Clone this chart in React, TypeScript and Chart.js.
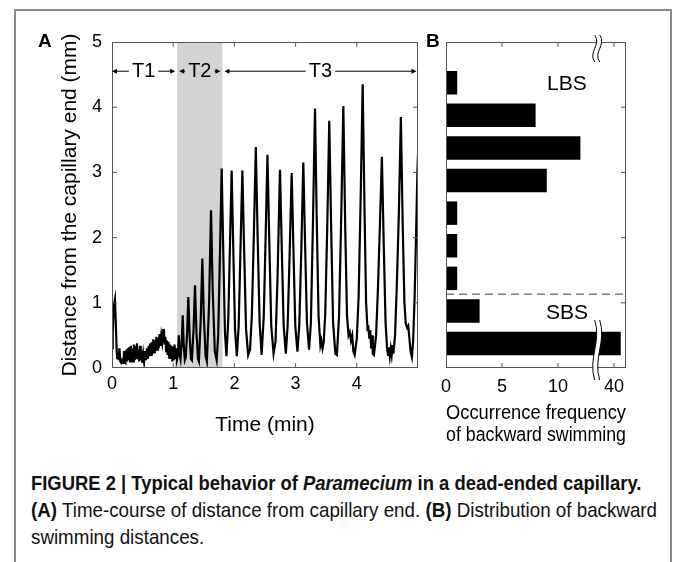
import React, { useEffect, useRef } from 'react';
import { Chart, registerables } from 'chart.js';

Chart.register(...registerables);

const FONT = '"Liberation Sans", Arial, Helvetica, sans-serif';

// ---------- Panel A: time course ----------
const timeMin = [
  0.000, 0.012, 0.030, 0.048, 0.062, 0.075, 0.085, 0.098, 0.110, 0.122,
  0.135, 0.150, 0.165, 0.180, 0.195, 0.205, 0.220, 0.235, 0.245, 0.258,
  0.270, 0.283, 0.295, 0.308, 0.320, 0.333, 0.345, 0.358, 0.370, 0.383,
  0.395, 0.408, 0.420, 0.433, 0.445, 0.458, 0.470, 0.483, 0.495, 0.510,
  0.525, 0.540, 0.555, 0.570, 0.585, 0.600, 0.612, 0.625, 0.638, 0.650,
  0.662, 0.675, 0.688, 0.700, 0.712, 0.725, 0.738, 0.750, 0.762, 0.775,
  0.790, 0.805, 0.820, 0.835, 0.848, 0.860, 0.872, 0.885, 0.897, 0.910,
  0.922, 0.935, 0.947, 0.960, 0.972, 0.985, 0.997, 1.010, 1.022, 1.035,
  1.047, 1.060,
  1.075, 1.092, 1.105, 1.120, 1.140, 1.155, 1.172, 1.190, 1.205, 1.228,
  1.247, 1.268, 1.290, 1.305, 1.333, 1.356, 1.380, 1.405, 1.420, 1.450,
  1.476, 1.500, 1.530, 1.550, 1.585, 1.618, 1.645, 1.680, 1.710, 1.735,
  1.765, 1.792, 1.818, 1.845, 1.870,
  1.900, 1.928, 1.955, 1.980, 2.010, 2.040,
  2.070, 2.100, 2.130, 2.158, 2.190, 2.225,
  2.255, 2.285, 2.318, 2.350, 2.380, 2.412, 2.445,
  2.480, 2.510, 2.540, 2.570, 2.602, 2.640,
  2.672, 2.705, 2.745, 2.775, 2.805, 2.840,
  2.870, 2.903, 2.936, 2.965, 2.995, 3.030,
  3.060, 3.093, 3.126, 3.155, 3.185, 3.220,
  3.250, 3.283, 3.317, 3.345, 3.375, 3.405, 3.420, 3.440, 3.460,
  3.485, 3.518, 3.550, 3.580, 3.612, 3.650, 3.675,
  3.710, 3.745, 3.780, 3.810, 3.840, 3.865, 3.885, 3.905, 3.925, 3.945, 3.965,
  4.000, 4.030, 4.063, 4.096, 4.125, 4.152, 4.175, 4.190, 4.205, 4.220, 4.235, 4.250, 4.262, 4.280,
  4.315, 4.345, 4.378, 4.410, 4.440, 4.470, 4.495, 4.510, 4.525, 4.540, 4.555, 4.570, 4.585, 4.598,
  4.625, 4.655, 4.688, 4.720, 4.750, 4.778, 4.800, 4.820, 4.840, 4.860, 4.880, 4.900, 4.920, 4.945,
  4.970, 4.990, 5.000,
];

const distanceMm = [
  0.30, 0.55, 0.95, 1.05, 0.70, 0.30, 0.15, 0.22, 0.12, 0.30,
  0.10, 0.08, 0.12, 0.08, 0.26, 0.10, 0.08, 0.28, 0.10, 0.30,
  0.12, 0.32, 0.10, 0.34, 0.14, 0.30, 0.10, 0.36, 0.12, 0.34,
  0.15, 0.38, 0.14, 0.28, 0.10, 0.34, 0.12, 0.26, 0.08, 0.22,
  0.10, 0.26, 0.12, 0.30, 0.14, 0.34, 0.18, 0.38, 0.20, 0.40,
  0.22, 0.44, 0.24, 0.42, 0.26, 0.48, 0.28, 0.46, 0.30, 0.52,
  0.34, 0.50, 0.40, 0.58, 0.60, 0.36, 0.48, 0.26, 0.42, 0.20,
  0.40, 0.16, 0.36, 0.14, 0.34, 0.10, 0.32, 0.12, 0.36, 0.14,
  0.30, 0.12,
  0.18, 0.50, 0.22, 0.14, 0.40, 0.81, 0.35, 0.12, 0.16, 0.55,
  1.09, 0.50, 0.14, 0.12, 0.60, 1.27, 0.55, 0.14, 0.10, 0.75,
  1.68, 0.80, 0.18, 0.10, 0.95, 2.42, 1.20, 0.25, 0.12, 0.50,
  1.80, 3.06, 1.80, 0.55, 0.18,
  0.75, 1.90, 3.03, 1.90, 0.60, 0.18,
  0.65, 1.85, 3.03, 1.85, 0.60, 0.20,
  0.28, 0.80, 2.05, 3.39, 2.00, 0.70, 0.20,
  0.80, 2.00, 3.27, 1.95, 0.65, 0.22,
  0.40, 1.40, 3.04, 1.80, 0.65, 0.22,
  0.65, 1.75, 2.99, 1.80, 0.65, 0.25,
  0.65, 1.80, 3.15, 1.90, 0.70, 0.28,
  0.70, 2.20, 3.98, 2.30, 0.80, 0.35, 0.42, 0.30, 0.40,
  0.85, 2.20, 3.79, 2.20, 0.70, 0.22, 0.20,
  0.80, 2.30, 4.02, 2.20, 0.80, 0.50, 0.55, 0.42, 0.50, 0.25, 0.20,
  0.45, 1.10, 2.60, 4.35, 2.50, 1.00, 0.60, 0.62, 0.45, 0.58, 0.30, 0.50, 0.22, 0.20,
  0.50, 1.20, 2.20, 3.24, 1.90, 0.70, 0.30, 0.20, 0.32, 0.18, 0.30, 0.20, 0.35, 0.22,
  0.50, 1.30, 2.40, 3.85, 2.20, 1.00, 0.68, 0.62, 0.65, 0.45, 0.25, 0.17, 0.40, 1.10,
  2.10, 3.00, 3.28,
];

const timeTicks = [0, 1, 2, 3, 4];
const distanceTicks = [0, 1, 2, 3, 4, 5];
const phaseBounds = [0, 1.065, 1.805, 5];
const phaseLabels = ['T1', 'T2', 'T3'];
const phaseLabelLevel = 4.56;

// ---------- Panel B: histogram ----------
const binCenters = [0.375, 0.875, 1.375, 1.875, 2.375, 2.875, 3.375, 3.875, 4.375];
const occurrence = [41, 3, 1, 1, 1, 9, 12, 8, 1];
const freqTicks = [0, 5, 10, 40];
const lbsSbsBoundary = 1.13;
const regionLabels = ['LBS', 'SBS'];
const regionLabelLevels = [4.37, 0.85];
const regionLabelFreq = 10.8;
const axisBreakAt = 13.5;

// broken axis: values >= 40 are shifted so that 40 sits where 15 would be
const toAxis = (v: number) => (v <= 13 ? v : 15 + (v - 40) * 0.6);

function drawInwardTicks(ctx: CanvasRenderingContext2D, a: any, xs: number[], ys: number[], sides: string[]) {
  const L = 5;
  ctx.beginPath();
  xs.forEach((px) => {
    if (sides.includes('bottom')) { ctx.moveTo(px, a.bottom); ctx.lineTo(px, a.bottom - L); }
    if (sides.includes('top')) { ctx.moveTo(px, a.top); ctx.lineTo(px, a.top + L); }
  });
  ys.forEach((py) => {
    if (sides.includes('left')) { ctx.moveTo(a.left, py); ctx.lineTo(a.left + L, py); }
    if (sides.includes('right')) { ctx.moveTo(a.right, py); ctx.lineTo(a.right - L, py); }
  });
  ctx.stroke();
}

function arrowHead(ctx: CanvasRenderingContext2D, x: number, y: number, dir: number) {
  ctx.beginPath();
  ctx.moveTo(x, y);
  ctx.lineTo(x - dir * 5, y - 2.5);
  ctx.lineTo(x - dir * 5, y + 2.5);
  ctx.closePath();
  ctx.fill();
}

function wavyBreak(ctx: CanvasRenderingContext2D, xc: number, yTop: number, yBot: number) {
  const gap = 5;
  const h = yBot - yTop;
  const path = (off: number, reverse: boolean) => {
    const x = xc + off;
    if (!reverse) {
      ctx.moveTo(x, yTop);
      ctx.bezierCurveTo(x + 7, yTop + h * 0.35, x - 7, yTop + h * 0.65, x, yBot);
    } else {
      ctx.lineTo(x, yBot);
      ctx.bezierCurveTo(x - 7, yTop + h * 0.65, x + 7, yTop + h * 0.35, x, yTop);
    }
  };
  ctx.save();
  ctx.fillStyle = '#fff';
  ctx.beginPath();
  path(-gap / 2, false);
  path(gap / 2, true);
  ctx.closePath();
  ctx.fill();
  ctx.strokeStyle = '#000';
  ctx.lineWidth = 1;
  ctx.beginPath();
  path(-gap / 2, false);
  ctx.stroke();
  ctx.beginPath();
  path(gap / 2, false);
  ctx.stroke();
  ctx.restore();
}

const panelAPlugin = {
  id: 'panelA',
  beforeDatasetsDraw(chart: any) {
    const { ctx, chartArea: a, scales } = chart;
    const x0 = scales.x.getPixelForValue(phaseBounds[1]);
    const x1 = scales.x.getPixelForValue(phaseBounds[2]);
    ctx.save();
    ctx.fillStyle = '#d3d3d3';
    ctx.fillRect(x0, a.top, x1 - x0, a.bottom - a.top);
    ctx.restore();
  },
  afterDatasetsDraw(chart: any) {
    const { ctx, chartArea: a, scales } = chart;
    const { x, y } = scales;
    ctx.save();
    ctx.strokeStyle = '#555';
    ctx.lineWidth = 1;
    ctx.strokeRect(a.left + 0.5, a.top + 0.5, a.right - a.left - 1, a.bottom - a.top - 1);
    drawInwardTicks(
      ctx, a,
      timeTicks.filter((t) => t > 0).map((t) => x.getPixelForValue(t)),
      distanceTicks.filter((d) => d > 0 && d < 5).map((d) => y.getPixelForValue(d)),
      ['top', 'bottom', 'left', 'right']
    );
    // phase annotations
    const py = y.getPixelForValue(phaseLabelLevel);
    ctx.fillStyle = '#000';
    ctx.strokeStyle = '#000';
    ctx.lineWidth = 1;
    ctx.font = `20px ${FONT}`;
    ctx.textAlign = 'center';
    ctx.textBaseline = 'middle';
    phaseLabels.forEach((lab, i) => {
      const xa = x.getPixelForValue(phaseBounds[i]) + (i > 0 ? 2 : 0);
      const xb = x.getPixelForValue(phaseBounds[i + 1]) - (i < 2 ? 2 : 1.5);
      const xm = (xa + xb) / 2;
      const w = ctx.measureText(lab).width;
      ctx.fillText(lab, xm, py + 1);
      ctx.beginPath();
      ctx.moveTo(xa + 3, py + 0.5);
      ctx.lineTo(xm - w / 2 - 3, py + 0.5);
      ctx.moveTo(xm + w / 2 + 3, py + 0.5);
      ctx.lineTo(xb - 3, py + 0.5);
      ctx.stroke();
      arrowHead(ctx, xa, py + 0.5, -1);
      arrowHead(ctx, xb, py + 0.5, 1);
    });
    ctx.restore();
  },
};

const panelBPlugin = {
  id: 'panelB',
  afterDatasetsDraw(chart: any) {
    const { ctx, chartArea: a, scales } = chart;
    const { x, y } = scales;
    ctx.save();
    // dashed LBS / SBS boundary
    const yb = y.getPixelForValue(lbsSbsBoundary);
    ctx.strokeStyle = '#808080';
    ctx.lineWidth = 1.5;
    ctx.setLineDash([8, 5]);
    ctx.beginPath();
    ctx.moveTo(a.left, yb);
    ctx.lineTo(a.right, yb);
    ctx.stroke();
    ctx.setLineDash([]);
    // box
    ctx.strokeStyle = '#555';
    ctx.lineWidth = 1;
    ctx.strokeRect(a.left + 0.5, a.top + 0.5, a.right - a.left - 1, a.bottom - a.top - 1);
    drawInwardTicks(
      ctx, a,
      freqTicks.filter((v) => v > 0).map((v) => x.getPixelForValue(toAxis(v))),
      distanceTicks.filter((d) => d > 0 && d < 5).map((d) => y.getPixelForValue(d)),
      ['top', 'bottom', 'right']
    );
    // labels
    ctx.fillStyle = '#000';
    ctx.font = `21px ${FONT}`;
    ctx.textAlign = 'center';
    ctx.textBaseline = 'middle';
    regionLabels.forEach((lab, i) => {
      ctx.fillText(lab, x.getPixelForValue(regionLabelFreq), y.getPixelForValue(regionLabelLevels[i]) + 1);
    });
    // axis breaks
    const xBreak = x.getPixelForValue(axisBreakAt);
    wavyBreak(ctx, xBreak, a.top - 7, a.top + 20);
    wavyBreak(ctx, xBreak, a.bottom - 48, a.bottom + 12);
    ctx.restore();
  },
};

const captionLine: React.CSSProperties = {
  whiteSpace: 'nowrap',
  transformOrigin: '0 0',
  height: 27,
};

export default function App() {
  const refA = useRef<HTMLCanvasElement>(null);
  const refB = useRef<HTMLCanvasElement>(null);

  useEffect(() => {
    Chart.defaults.font.family = FONT;
    Chart.defaults.color = '#000';

    const chartA = new Chart(refA.current as HTMLCanvasElement, {
      type: 'line',
      data: {
        datasets: [
          {
            data: timeMin.map((t, i) => ({ x: t, y: distanceMm[i] })),
            borderColor: '#000',
            borderWidth: 2.2,
            pointRadius: 0,
            tension: 0,
            fill: false,
          },
        ],
      },
      options: {
        responsive: false,
        animation: false,
        maintainAspectRatio: false,
        layout: { padding: { left: 0, right: 12, top: 22, bottom: 0 } },
        plugins: { legend: { display: false }, tooltip: { enabled: false } },
        scales: {
          x: {
            type: 'linear',
            min: 0,
            max: 5,
            afterBuildTicks: (s: any) => { s.ticks = timeTicks.map((v) => ({ value: v })); },
            afterFit: (s: any) => { s.height = 72; },
            ticks: { font: { size: 18 }, color: '#000', padding: 5, autoSkip: false, maxRotation: 0 },
            grid: { display: false, drawTicks: false },
            border: { display: false },
            title: { display: true, text: 'Time (min)', font: { size: 21 }, color: '#000', padding: { top: 0, bottom: 2 } },
          },
          y: {
            type: 'linear',
            min: 0,
            max: 5,
            afterBuildTicks: (s: any) => { s.ticks = distanceTicks.map((v) => ({ value: v })); },
            afterFit: (s: any) => { s.width = 92; },
            ticks: { font: { size: 18 }, color: '#000', padding: 10 },
            grid: { display: false, drawTicks: false },
            border: { display: false },
            title: { display: true, text: 'Distance from the capillary end (mm)', font: { size: 21 }, color: '#000', padding: { top: 38, bottom: 0 } },
          },
        },
      },
      plugins: [panelAPlugin],
    } as any);

    const chartB = new Chart(refB.current as HTMLCanvasElement, {
      type: 'bar',
      data: {
        datasets: [
          {
            data: binCenters.map((c, i) => ({ x: toAxis(occurrence[i]), y: c })),
            backgroundColor: '#000',
            borderWidth: 0,
            barPercentage: 0.9,
            categoryPercentage: 0.8,
          },
        ],
      },
      options: {
        indexAxis: 'y',
        responsive: false,
        animation: false,
        maintainAspectRatio: false,
        layout: { padding: { left: 16, right: 44, top: 22, bottom: 0 } },
        plugins: { legend: { display: false }, tooltip: { enabled: false } },
        scales: {
          x: {
            type: 'linear',
            min: 0,
            max: 16.07,
            afterBuildTicks: (s: any) => { s.ticks = freqTicks.map((v) => ({ value: toAxis(v) })); },
            afterFit: (s: any) => { s.height = 92; },
            ticks: {
              font: { size: 18 },
              color: '#000',
              padding: 8,
              autoSkip: false,
              maxRotation: 0,
              callback: (_v: any, i: number) => String(freqTicks[i]),
            },
            grid: { display: false, drawTicks: false },
            border: { display: false },
            title: {
              display: true,
              text: ['Occurrence frequency', 'of backward swimming'],
              font: { size: 20, lineHeight: 1.1 },
              color: '#000',
              padding: { top: 0, bottom: 14 },
            },
          },
          y: {
            type: 'linear',
            min: 0,
            max: 5,
            display: false,
            offset: false,
            grid: { offset: false },
          },
        },
      },
      plugins: [panelBPlugin],
    } as any);

    return () => {
      chartA.destroy();
      chartB.destroy();
    };
  }, []);

  return (
    <div style={{ position: 'absolute', left: 0, top: 0, width: 673, height: 562, overflow: 'hidden', background: '#fff', fontFamily: FONT }}>
      <div style={{ position: 'absolute', left: 14, top: 9, width: 658, height: 600, border: '2px solid #8a8a8a', borderBottom: 'none', boxSizing: 'border-box' }} />
      <canvas ref={refA} width={410} height={420} style={{ position: 'absolute', left: 20, top: 20, width: 410, height: 420 }} />
      <canvas ref={refB} width={240} height={440} style={{ position: 'absolute', left: 430, top: 20, width: 240, height: 440 }} />
      <div style={{ position: 'absolute', left: 38, top: 31, fontWeight: 'bold', fontSize: 19, lineHeight: '19px', color: '#000' }}>A</div>
      <div style={{ position: 'absolute', left: 426, top: 31, fontWeight: 'bold', fontSize: 19, lineHeight: '19px', color: '#000' }}>B</div>
      <div style={{ position: 'absolute', left: 31, top: 469, width: 640, fontFamily: FONT, fontSize: 21, lineHeight: '27px', color: '#111' }}>
        <div style={{ ...captionLine, fontWeight: 'bold', transform: 'scaleX(0.877)' }}>
          FIGURE 2 | Typical behavior of <i>Paramecium</i> in a dead-ended capillary.
        </div>
        <div style={{ ...captionLine, transform: 'scaleX(0.894)' }}>
          <b>(A)</b> Time-course of distance from capillary end. <b>(B)</b> Distribution of backward
        </div>
        <div style={{ ...captionLine, transform: 'scaleX(0.894)' }}>swimming distances.</div>
      </div>
    </div>
  );
}
